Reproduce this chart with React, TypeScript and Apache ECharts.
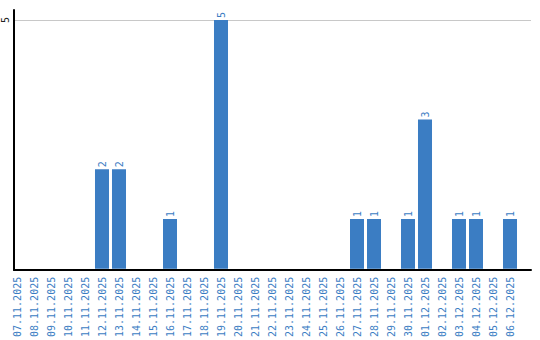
import React, { useEffect, useRef } from "react";
import * as echarts from "echarts";

const categories = [
  "07.11.2025", "08.11.2025", "09.11.2025", "10.11.2025", "11.11.2025",
  "12.11.2025", "13.11.2025", "14.11.2025", "15.11.2025", "16.11.2025",
  "17.11.2025", "18.11.2025", "19.11.2025", "20.11.2025", "21.11.2025",
  "22.11.2025", "23.11.2025", "24.11.2025", "25.11.2025", "26.11.2025",
  "27.11.2025", "28.11.2025", "29.11.2025", "30.11.2025", "01.12.2025",
  "02.12.2025", "03.12.2025", "04.12.2025", "05.12.2025", "06.12.2025",
];
const values = [
  0, 0, 0, 0, 0,
  2, 2, 0, 0, 1,
  0, 0, 5, 0, 0,
  0, 0, 0, 0, 0,
  1, 1, 0, 1, 3,
  0, 1, 1, 0, 1,
];
const yTicks = [0, 5];
const yMin = 0;
const yMax = 5.2;
const yInterval = 5;

export default function App() {
  const ref = useRef<HTMLDivElement>(null);
  useEffect(() => {
    if (!ref.current) return;
    const chart = echarts.init(ref.current, undefined, { renderer: "svg" });
    const blue = "#3b7dc3";
    const font = "DejaVu Sans Mono";
    chart.setOption({
      animation: false,
      grid: [
        { left: 8.5, top: 10, width: 510, bottom: 70 },
        { left: 10.5, top: 10, right: 9, bottom: 70 },
      ],
      xAxis: [
        {
          type: "category",
          gridIndex: 0,
          data: categories,
          axisLine: { show: false },
          axisTick: { show: false },
          axisLabel: {
            interval: 0,
            rotate: 90,
            margin: 8,
            color: blue,
            fontFamily: font,
            fontSize: 10,
          },
        },
        {
          type: "value",
          gridIndex: 1,
          min: 0,
          max: 1,
          axisLine: { show: true, onZero: false, lineStyle: { color: "#000", width: 2 } },
          axisTick: { show: false },
          axisLabel: { show: false },
          splitLine: { show: false },
        },
      ],
      yAxis: [
        {
          type: "value",
          gridIndex: 0,
          min: yMin,
          max: yMax,
          interval: yInterval,
          show: false,
          splitLine: { show: false },
        },
        {
          type: "value",
          gridIndex: 1,
          min: yMin,
          max: yMax,
          interval: yInterval,
          axisLine: { show: true, lineStyle: { color: "#000", width: 2 } },
          axisTick: { show: false },
          axisLabel: {
            rotate: 90,
            margin: 4,
            color: "#222",
            fontFamily: font,
            fontSize: 10,
            formatter: (v: number) => (v !== 0 && yTicks.includes(v) ? String(v) : ""),
          },
          splitLine: {
            show: true,
            lineStyle: { color: ["transparent", "#c8c8c8", "transparent"], width: 1 },
          },
        },
      ],
      series: [
        {
          type: "bar",
          xAxisIndex: 0,
          yAxisIndex: 0,
          data: values.map((v) => (v === 0 ? null : v)),
          barCategoryGap: "17.6%",
          itemStyle: { color: blue },
          label: {
            show: true,
            position: "top",
            rotate: 90,
            align: "left",
            verticalAlign: "middle",
            distance: 2,
            color: blue,
            fontFamily: font,
            fontSize: 10,
          },
          z: 3,
        },
        {
          type: "line",
          xAxisIndex: 1,
          yAxisIndex: 1,
          data: [],
        },
      ],
    });
    return () => chart.dispose();
  }, []);
  return <div ref={ref} style={{ width: 540, height: 340, position: "absolute", left: 0, top: 0 }} />;
}
